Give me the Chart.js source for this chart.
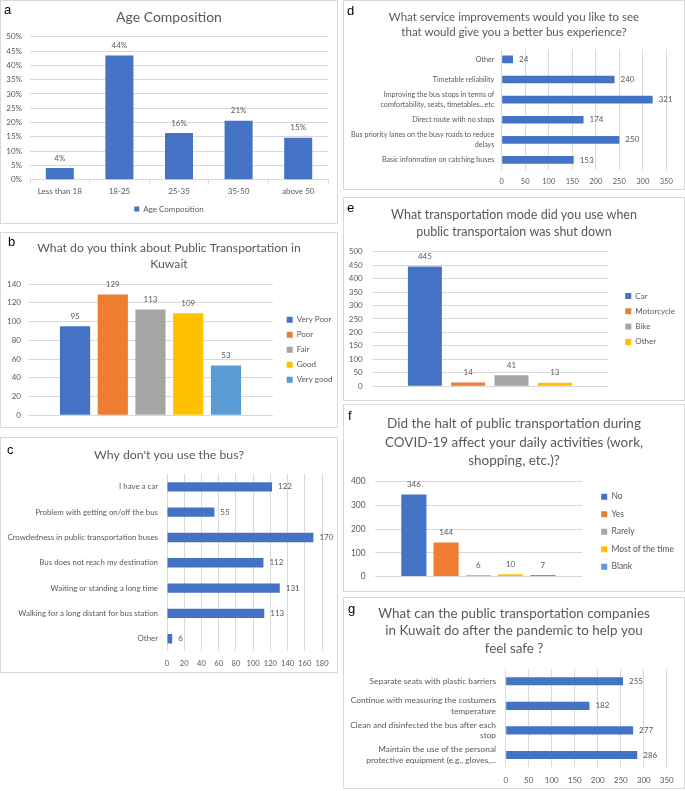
<!DOCTYPE html>
<html>
<head>
<meta charset="utf-8">
<script src="https://cdn.jsdelivr.net/npm/chart.js@4.4.1/dist/chart.umd.min.js"></script>
<style>
  html, body { margin: 0; padding: 0; background: #fff; }
  body { position: relative; width: 685px; height: 791px; overflow: hidden; }
  .panel { position: absolute; box-sizing: border-box; border: 1px solid #d9d9d9; background: #fff; }
  .panel canvas { position: absolute; left: 0; top: 0; }
  .tag { position: absolute; font: 13px "Liberation Sans", Arial, sans-serif; color: #000; z-index: 2; }
</style>
</head>
<body>
<div class="panel" style="left:0;top:0;width:338px;height:224px"><span class="tag" style="left:3px;top:1px">a</span><canvas id="age" width="336" height="222"></canvas></div>
<div class="panel" style="left:0;top:232px;width:338px;height:196px"><span class="tag" style="left:7px;top:1px">b</span><canvas id="opinion" width="336" height="194"></canvas></div>
<div class="panel" style="left:0;top:437px;width:338px;height:236px"><span class="tag" style="left:6px;top:4px">c</span><canvas id="reasons" width="336" height="234"></canvas></div>
<div class="panel" style="left:343px;top:0;width:342px;height:190px"><span class="tag" style="left:3px;top:2px">d</span><canvas id="improve" width="340" height="188"></canvas></div>
<div class="panel" style="left:343px;top:197px;width:342px;height:204px"><span class="tag" style="left:3px;top:2px">e</span><canvas id="mode" width="340" height="202"></canvas></div>
<div class="panel" style="left:343px;top:404px;width:342px;height:188px"><span class="tag" style="left:4px;top:3px">f</span><canvas id="halt" width="340" height="186"></canvas></div>
<div class="panel" style="left:343px;top:597px;width:342px;height:192px"><span class="tag" style="left:4px;top:3px">g</span><canvas id="safety" width="340" height="190"></canvas></div>

<script>
const FONT = "Lato, 'Open Sans', sans-serif"
const TXT = "#595959"
const GRID = "#d9d9d9"
const BLUE = "#4472C4"
const ORANGE = "#ED7D31"
const GRAY = "#A5A5A5"
const GOLD = "#FFC000"
const LIGHT_BLUE = "#5B9BD5"

// a - age composition (percent of respondents)
const ageLabels = ["Less than 18", "18-25", "25-35", "35-50", "above 50"]
const ageShares = [4.1, 43.5, 16.3, 20.6, 14.7]

// b - opinion about public transport
const opinionLabels = ["Very Poor", "Poor", "Fair", "Good", "Very good"]
const opinionCounts = [95, 129, 113, 109, 53]
const opinionColors = [BLUE, ORANGE, GRAY, GOLD, LIGHT_BLUE]

// c - reasons for not using the bus
const reasonLabels = [
  "I have a car",
  "Problem with getting on/off the bus",
  "Crowdedness in public transportation buses",
  "Bus does not reach my destination",
  "Waiting or standing a long time",
  "Walking for a long distant for bus station",
  "Other"
]
const reasonCounts = [122, 55, 170, 112, 131, 113, 6]

// d - wanted service improvements
const improveLabels = [
  "Other",
  "Timetable reliability",
  ["Improving the bus stops in terms of", "comfortability, seats, timetables...etc"],
  "Direct route with no stops",
  ["Bus priority lanes on the busy roads to reduce", "delays"],
  "Basic information on catching buses"
]
const improveCounts = [24, 240, 321, 174, 250, 153]

// e - mode used during shutdown
const modeLabels = ["Car", "Motorcycle", "Bike", "Other"]
const modeCounts = [445, 14, 41, 13]
const modeColors = [BLUE, ORANGE, GRAY, GOLD]

// f - effect of the halt on daily activities
const haltLabels = ["No", "Yes", "Rarely", "Most of the time", "Blank"]
const haltCounts = [346, 144, 6, 10, 7]
const haltColors = [BLUE, ORANGE, GRAY, GOLD, LIGHT_BLUE]

// g - measures to feel safe
const safetyLabels = [
  "Separate seats with plastic barriers",
  ["Continue with measuring the costumers", "temperature"],
  ["Clean and disinfected the bus after each", "stop"],
  ["Maintain the use of the personal", "protective equipment (e.g., gloves,..."]
]
const safetyCounts = [255, 182, 277, 286]

Chart.defaults.font.family = FONT
Chart.defaults.color = TXT
Chart.defaults.animation = false
Chart.defaults.responsive = false
Chart.defaults.plugins.tooltip.enabled = false

const valueLabels = {
  id: "valueLabels",
  afterDatasetsDraw(chart, args, opts) {
    const { ctx } = chart
    const horizontal = chart.options.indexAxis === "y"
    ctx.save()
    ctx.font = `${opts.size || 8}px ${FONT}`
    ctx.fillStyle = TXT
    chart.data.datasets.forEach((ds, i) => {
      chart.getDatasetMeta(i).data.forEach((bar, j) => {
        const v = ds.data[j]
        const text = opts.format ? opts.format(v) : String(v)
        if (horizontal) {
          ctx.textAlign = "left"
          ctx.textBaseline = "middle"
          ctx.fillText(text, bar.x + 6, bar.y)
        } else {
          ctx.textAlign = "center"
          ctx.textBaseline = "middle"
          ctx.fillText(text, bar.x, bar.y - 10)
        }
      })
    })
    ctx.restore()
  }
}

const fixWidth = (w) => (scale) => { scale.width = w }
const fixHeight = (h) => (scale) => { scale.height = h }

const titleOpts = (text, size, lineHeight, top, bottom) => ({
  display: true,
  text,
  color: TXT,
  font: { size, weight: "normal", lineHeight },
  padding: { top, bottom }
})

// empty spacer on the right, keeps the title centred on the whole panel
const gapAxis = (w) => ({
  type: "linear",
  position: "right",
  grid: { display: false },
  border: { display: false },
  ticks: { display: false },
  afterFit: fixWidth(w)
})

const rightLegend = (size, box, padding, maxWidth) => ({
  position: "right",
  fullSize: false,
  maxWidth,
  labels: { boxWidth: box, boxHeight: box, padding, font: { size }, color: TXT }
})

const valueAxis = (max, step, size, padding, width, extra = {}) => ({
  min: 0,
  max,
  ticks: { stepSize: step, padding, font: { size }, ...extra },
  grid: { color: GRID, drawTicks: false },
  border: { display: false },
  afterFit: fixWidth(width)
})

const countAxis = (max, step, size, padding, height) => ({
  min: 0,
  max,
  ticks: { stepSize: step, padding, font: { size }, maxRotation: 0, minRotation: 0, autoSkip: false },
  grid: { color: GRID, drawTicks: false },
  border: { display: false },
  afterFit: fixHeight(height)
})

const categoryAxis = (size, lineHeight, padding, width) => ({
  ticks: { padding, autoSkip: false, font: { size, lineHeight } },
  grid: { display: false, drawTicks: false },
  border: { display: false },
  afterFit: fixWidth(width)
})

// a
new Chart(document.getElementById("age"), {
  type: "bar",
  data: {
    labels: ageLabels,
    datasets: [{ label: "Age Composition", data: ageShares, backgroundColor: BLUE, categoryPercentage: 1, barPercentage: 0.47 }]
  },
  options: {
    scales: {
      x: {
        grid: { drawOnChartArea: false, tickLength: 4, color: GRID },
        border: { color: GRID },
        ticks: { padding: 3, font: { size: 8 }, maxRotation: 0, autoSkip: false },
        afterFit: fixHeight(20)
      },
      y: valueAxis(50, 5, 8, 8, 29, { callback: (v) => v + "%" }),
      gap: gapAxis(9)
    },
    plugins: {
      title: titleOpts("Age Composition", 14, 1.2, 8, 11),
      legend: { position: "bottom", labels: { boxWidth: 5, boxHeight: 5, padding: 5.3, font: { size: 8 }, color: TXT } },
      valueLabels: { format: (v) => Math.round(v) + "%" }
    }
  },
  plugins: [valueLabels]
})

// b
new Chart(document.getElementById("opinion"), {
  type: "bar",
  data: {
    labels: [""],
    datasets: opinionLabels.map((label, i) => ({
      label, data: [opinionCounts[i]], backgroundColor: opinionColors[i], categoryPercentage: 0.77, barPercentage: 0.8
    }))
  },
  options: {
    layout: { padding: { bottom: 5.3 } },
    scales: {
      x: { display: false },
      y: valueAxis(140, 20, 8, 7, 27),
      gap: gapAxis(6.7)
    },
    plugins: {
      title: titleOpts(["What do you think about Public Transportation in", "Kuwait"], 12.2, 1.32, 7, 12),
      legend: rightLegend(8, 6, 7, 57.3),
      valueLabels: {}
    }
  },
  plugins: [valueLabels]
})

// c
new Chart(document.getElementById("reasons"), {
  type: "bar",
  data: {
    labels: reasonLabels,
    datasets: [{ label: "Count", data: reasonCounts, backgroundColor: BLUE, categoryPercentage: 1, barPercentage: 0.37 }]
  },
  options: {
    indexAxis: "y",
    scales: {
      x: countAxis(180, 20, 7.5, 7.5, 20.6),
      y: categoryAxis(7.85, 1.2, 9, 166),
      gap: gapAxis(15)
    },
    plugins: {
      title: titleOpts("Why don't you use the bus?", 12.3, 1.25, 9.5, 11.3),
      legend: { display: false },
      valueLabels: {}
    }
  },
  plugins: [valueLabels]
})

// d
new Chart(document.getElementById("improve"), {
  type: "bar",
  data: {
    labels: improveLabels,
    datasets: [{ label: "Count", data: improveCounts, backgroundColor: BLUE, categoryPercentage: 1, barPercentage: 0.38 }]
  },
  options: {
    indexAxis: "y",
    scales: {
      x: countAxis(350, 50, 7.5, 7.2, 19),
      y: categoryAxis(7.15, 1.35, 7.4, 157.7),
      gap: gapAxis(17.7)
    },
    plugins: {
      title: titleOpts(["What service improvements would you like to see", "that would give you a better bus experience?"], 11.5, 1.3, 8.5, 9.9),
      legend: { display: false },
      valueLabels: {}
    }
  },
  plugins: [valueLabels]
})

// e
new Chart(document.getElementById("mode"), {
  type: "bar",
  data: {
    labels: [""],
    datasets: modeLabels.map((label, i) => ({
      label, data: [modeCounts[i]], backgroundColor: modeColors[i], categoryPercentage: 0.733, barPercentage: 0.785
    }))
  },
  options: {
    layout: { padding: { bottom: 12.7 } },
    scales: {
      x: { display: false },
      y: valueAxis(500, 50, 8, 9, 27.7),
      gap: gapAxis(10)
    },
    plugins: {
      title: titleOpts(["What transportation mode did you use when", "public transportaion was shut down"], 12.5, 1.34, 8.6, 11.6),
      legend: rightLegend(8, 6, 7.3, 66),
      valueLabels: {}
    }
  },
  plugins: [valueLabels]
})

// f
new Chart(document.getElementById("halt"), {
  type: "bar",
  data: {
    labels: [""],
    datasets: haltLabels.map((label, i) => ({
      label, data: [haltCounts[i]], backgroundColor: haltColors[i], categoryPercentage: 0.78, barPercentage: 0.78
    }))
  },
  options: {
    layout: { padding: { bottom: 11 } },
    scales: {
      x: { display: false },
      y: valueAxis(400, 100, 8.5, 9.3, 31),
      gap: gapAxis(10.5)
    },
    plugins: {
      title: titleOpts(["Did the halt of public transportation during", "COVID-19 affect your daily activities (work,", "shopping, etc.)?"], 13.5, 1.39, 9, 11.4),
      legend: {
        position: "right",
        align: "end",
        maxWidth: 93.5,
        labels: { boxWidth: 6, boxHeight: 6, padding: 9, font: { size: 8.5 }, color: TXT }
      },
      valueLabels: {}
    }
  },
  plugins: [valueLabels]
})

// g
new Chart(document.getElementById("safety"), {
  type: "bar",
  data: {
    labels: safetyLabels,
    datasets: [{ label: "Count", data: safetyCounts, backgroundColor: BLUE, categoryPercentage: 1, barPercentage: 0.33 }]
  },
  options: {
    indexAxis: "y",
    scales: {
      x: countAxis(350, 50, 8, 8, 20.7),
      y: categoryAxis(8.3, 1.3, 9.7, 161.7),
      gap: gapAxis(17.3)
    },
    plugins: {
      title: titleOpts(["What can the public transportation companies", "in Kuwait do after the pandemic to help you", "feel safe ?"], 13.4, 1.31, 6.5, 11.8),
      legend: { display: false },
      valueLabels: {}
    }
  },
  plugins: [valueLabels]
})
</script>
</body>
</html>
